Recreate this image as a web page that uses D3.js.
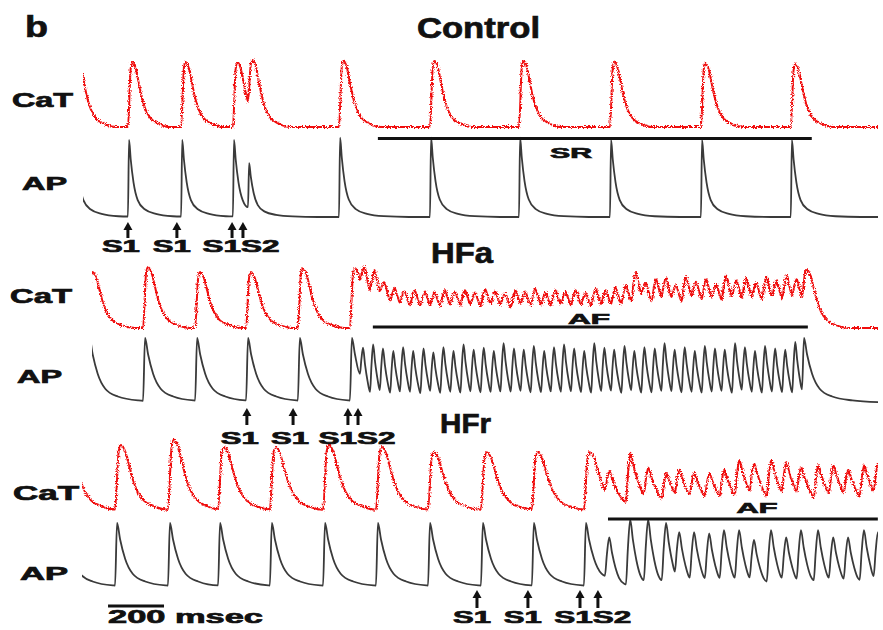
<!DOCTYPE html>
<html>
<head>
<meta charset="utf-8">
<script src="https://cdn.jsdelivr.net/npm/d3@7"></script>
<style>
  body { margin: 0; background: #fff; }
  text { font-family: "Liberation Sans", Arial, sans-serif; font-weight: bold; fill: #111; stroke: #111; stroke-width: 0.7; }
</style>
</head>
<body>
<script>
const WIDTH = 883;
const HEIGHT = 630;

// beat shapes: [ms after onset, fraction of the beat's peak]
const CA_SHAPE = [[0,0],[10,0.9],[16,1],[28,0.9],[40,0.65],[50,0.45],[62,0.28],[80,0.14],[110,0.05],[150,0]];
const AP_SHAPE = [[0,0],[4,1],[10,0.75],[20,0.45],[35,0.22],[60,0.1],[100,0.04],[160,0.01],[250,0]];
const AF_CA_SHAPE = [[0,0],[8,0.6],[16,1],[26,0.8],[40,0.55],[60,0.3],[90,0.12],[130,0]];
const AF_AP_SHAPE = [[0,0],[5,0.55],[11,1],[18,0.7],[27,0.4],[36,0.2],[50,0.08],[80,0]];

// ---- Control (times in msec) ----
const ctrlOnsets  = [-30, 164, 354, 539, 593, 918, 1243, 1561, 1886, 2211, 2532];
const ctrlCaPeaks = [0.95, 1.0, 1.0, 1.0, 1.03, 1.02, 1.02, 1.02, 1.0, 0.98, 0.97];
const ctrlApPeaks = [1.0, 1.0, 1.0, 1.0, 0.7, 1.03, 1.03, 1.03, 1.0, 1.0, 1.0];
const ctrlStim = [164, 339, 536, 575];
const ctrlStimLabels = [["S1", 139], ["S1", 321], ["S1S2", 568]];
const ctrlBar = [1057, 2607];

// ---- HFa ----
const hfaOnsets = [
  20, 218, 404, 586, 771, 957,
  993, 1029, 1064, 1101, 1136, 1172, 1209, 1244, 1280, 1316,
  1352, 1388, 1424, 1460, 1495, 1532, 1567, 1603, 1640, 1675,
  1711, 1747, 1783, 1819, 1855, 1890, 1927, 1962, 1998, 2035,
  2070, 2106, 2142, 2178, 2214, 2250, 2285, 2322, 2357, 2393,
  2429, 2465, 2501, 2537, 2572];
const hfaApPeaks = [
  1.0, 1.0, 1.0, 1.0, 1.0, 1.0,
  0.85, 0.9, 0.84, 0.8, 0.86, 0.8, 0.84, 0.78, 0.86, 0.8,
  0.9, 0.82, 0.85, 0.8, 0.92, 0.84, 0.82, 0.88, 0.8, 0.86,
  0.9, 0.84, 0.8, 0.92, 0.85, 0.82, 0.88, 0.8, 0.86, 0.84,
  0.92, 0.82, 0.86, 0.8, 0.88, 0.84, 0.82, 0.92, 0.86, 0.8,
  0.88, 0.84, 0.82, 0.94, 1.0];
const hfaCaPeaks = [
  0.92, 1.0, 0.92, 0.92, 0.98, 0.98,
  1.0, 0.95, 0.75, 0.65, 0.6, 0.62, 0.6, 0.58, 0.62, 0.6,
  0.62, 0.58, 0.64, 0.6, 0.56, 0.62, 0.6, 0.64, 0.58, 0.62,
  0.6, 0.62, 0.58, 0.64, 0.62, 0.66, 0.7, 0.92, 0.74, 0.8,
  0.82, 0.7, 0.84, 0.76, 0.8, 0.72, 0.86, 0.78, 0.82, 0.74,
  0.84, 0.78, 0.86, 0.8, 0.95];
const hfaStim = [589, 754, 950, 986];
const hfaStimLabels = [["S1", 564], ["S1", 743], ["S1S2", 982]];
const hfaBar = [1039, 2593];
const hfaAf = [975, 2560];

// ---- HFr ----
const hfrOnsets = [
  -70, 118, 307, 486, 671, 861, 1050, 1236, 1425, 1607, 1793,
  1868, 1943, 2007, 2071, 2118, 2171, 2225, 2278, 2332, 2385,
  2446, 2500, 2553, 2614, 2668, 2721, 2778, 2828];
const hfrApPeaks = [
  1.0, 1.0, 1.0, 1.0, 1.0, 1.0, 1.0, 1.0, 1.0, 1.0, 1.0,
  0.78, 1.05, 1.05, 1.0, 0.86, 0.86, 0.84, 0.89, 0.89, 0.74,
  0.89, 0.78, 0.89, 0.89, 0.78, 0.78, 0.89, 0.86];
const hfrCaPeaks = [
  1.0, 1.0, 1.08, 0.97, 0.97, 1.0, 0.97, 0.89, 0.89, 0.89, 0.89,
  0.6, 0.88, 0.65, 0.57, 0.62, 0.57, 0.57, 0.62, 0.77, 0.72,
  0.77, 0.74, 0.66, 0.69, 0.69, 0.62, 0.69, 0.72];
const hfrStim = [1411, 1593, 1779, 1843];
const hfrStimLabels = [["S1", 1393], ["S1", 1575], ["S1S2", 1825]];
const hfrBar = [1879, 2843];
const hfrAf = [1850, 2850];

const scaleBar = [93, 293];

var svg = d3.select("body").append("svg")
    .attr("width", WIDTH)
    .attr("height", HEIGHT);

svg.append("rect").attr("width", WIDTH).attr("height", HEIGHT).attr("fill", "#fff");

// rough look of the optical calcium signal
var filter = svg.append("defs").append("filter")
    .attr("id", "jitter")
    .attr("x", "-2%").attr("y", "-20%").attr("width", "104%").attr("height", "140%");
filter.append("feTurbulence")
    .attr("type", "fractalNoise").attr("baseFrequency", "0.7 0.9")
    .attr("numOctaves", 2).attr("seed", 4).attr("result", "n");
filter.append("feDisplacementMap")
    .attr("in", "SourceGraphic").attr("in2", "n").attr("scale", 4.5)
    .attr("xChannelSelector", "R").attr("yChannelSelector", "G");

var x = d3.scaleLinear().domain([0, 2840]).range([82, 877]);

function shapeAt(shape, dt) {
    if (dt <= 0) return 0;
    for (var j = 1; j < shape.length; j++) {
        if (dt <= shape[j][0]) {
            var a = shape[j - 1], b = shape[j];
            return a[1] + (b[1] - a[1]) * (dt - a[0]) / (b[0] - a[0]);
        }
    }
    return 0;
}

// each beat rises from where the previous one left off, then decays
function tracePoints(onsets, peaks, opt) {
    var pts = [], level = 0;
    onsets.forEach(function(t0, i) {
        var isAf = opt.af && t0 >= opt.af[0] && t0 <= opt.af[1];
        var shape = isAf ? opt.afShape : opt.shape;
        var s = isAf ? opt.afStretch : opt.stretch;
        var next = i < onsets.length - 1 ? onsets[i + 1] : opt.end;
        var tPeak = shape.find(function(d) { return d[1] === 1; })[0];
        var start = level, p = peaks[i];
        function val(dt) {
            var f = shapeAt(shape, dt / s);
            return dt / s < tPeak ? start + (p - start) * f : p * f;
        }
        shape.forEach(function(k) {
            var t = t0 + k[0] * s;
            if (t < next) pts.push([t, val(k[0] * s)]);
        });
        level = val(next - t0);
        if (i === onsets.length - 1) pts.push([next, level]);
    });
    return pts;
}

var clipN = 0;
function drawTrace(pts, yRange, xStart, color, rough) {
    var y = d3.scaleLinear().domain([0, 1]).range(yRange);
    var id = "clip" + (clipN++);
    svg.select("defs").append("clipPath").attr("id", id)
        .append("rect")
            .attr("x", xStart).attr("y", yRange[1] - 30)
            .attr("width", 878 - xStart).attr("height", yRange[0] - yRange[1] + 50);
    var line = d3.line()
        .x(function(d) { return x(d[0]); })
        .y(function(d) { return y(d[1]); })
        .curve(d3.curveMonotoneX);
    var g = svg.append("g").attr("clip-path", "url(#" + id + ")");
    g.append("path")
        .datum(pts)
        .attr("d", line)
        .attr("fill", "none")
        .attr("stroke", color)
        .attr("stroke-width", rough ? 2 : 1.8)
        .attr("stroke-linejoin", "round")
        .attr("filter", rough ? "url(#jitter)" : null);
}

var END = 2850;
var RED = "#f01010";
var GREY = "#3a3a3a";

// Control
drawTrace(tracePoints(ctrlOnsets, ctrlCaPeaks, {shape: CA_SHAPE, stretch: 1.0, end: END}), [127, 62], 83, RED, true);
drawTrace(tracePoints(ctrlOnsets, ctrlApPeaks, {shape: AP_SHAPE, stretch: 1.0, end: END}), [217, 140], 83, GREY, false);

// HFa
drawTrace(tracePoints(hfaOnsets, hfaCaPeaks, {shape: CA_SHAPE, stretch: 1.1, afShape: AF_CA_SHAPE, afStretch: 1.0, af: hfaAf, end: END}), [328, 267], 92, RED, true);
drawTrace(tracePoints(hfaOnsets, hfaApPeaks, {shape: AP_SHAPE, stretch: 1.8, afShape: AF_AP_SHAPE, afStretch: 1.0, af: hfaAf, end: END}), [403, 338], 92, GREY, false);

// HFr
drawTrace(tracePoints(hfrOnsets, hfrCaPeaks, {shape: CA_SHAPE, stretch: 1.3, afShape: AF_CA_SHAPE, afStretch: 1.0, af: hfrAf, end: END}), [510, 445], 82, RED, true);
drawTrace(tracePoints(hfrOnsets, hfrApPeaks, {shape: AP_SHAPE, stretch: 1.8, afShape: AF_AP_SHAPE, afStretch: 1.4, af: hfrAf, end: END}), [588, 523], 82, GREY, false);

// horizontal bars (SR / AF / scale)
function bar(range, yPos) {
    svg.append("line")
        .attr("x1", x(range[0])).attr("x2", x(range[1]))
        .attr("y1", yPos).attr("y2", yPos)
        .attr("stroke", "#111").attr("stroke-width", 2.8);
}
bar(ctrlBar, 138.5);
bar(hfaBar, 327);
bar(hfrBar, 519);
bar(scaleBar, 606);

// stimulus arrows
function arrows(times, yTip, yEnd) {
    times.forEach(function(t) {
        var cx = x(t);
        svg.append("line")
            .attr("x1", cx).attr("x2", cx).attr("y1", yTip + 6).attr("y2", yEnd)
            .attr("stroke", "#111").attr("stroke-width", 3);
        svg.append("path")
            .attr("d", "M" + (cx - 4.5) + "," + (yTip + 8) + "L" + cx + "," + yTip + "L" + (cx + 4.5) + "," + (yTip + 8) + "Z")
            .attr("fill", "#111");
    });
}
arrows(ctrlStim, 222, 238);
arrows(hfaStim, 408, 425);
arrows(hfrStim, 590, 608);

function stimLabels(list, yBase) {
    list.forEach(function(d) {
        svg.append("text")
            .attr("x", x(d[1])).attr("y", yBase)
            .attr("text-anchor", "middle")
            .attr("font-size", 17)
            .attr("textLength", d[0].length === 2 ? 38 : 77)
            .attr("lengthAdjust", "spacingAndGlyphs")
            .text(d[0]);
    });
}
stimLabels(ctrlStimLabels, 252);
stimLabels(hfaStimLabels, 444);
stimLabels(hfrStimLabels, 623);

function label(txt, xPos, yBase, size, len, anchor) {
    svg.append("text")
        .attr("x", xPos).attr("y", yBase)
        .attr("font-size", size)
        .attr("text-anchor", anchor || "start")
        .attr("textLength", len)
        .attr("lengthAdjust", "spacingAndGlyphs")
        .text(txt);
}
label("b", 25, 37, 30, 23);
label("Control", 417, 38, 29, 123);
label("HFa", 431, 263, 30, 62);
label("HFr", 440, 433, 28, 51);

label("CaT", 12, 107, 19.5, 61);
label("AP", 22, 190, 18, 45);
label("CaT", 10, 303, 19.5, 62);
label("AP", 17, 383, 18, 45);
label("CaT", 13, 500, 19.5, 66);
label("AP", 20, 580, 18, 48);

label("SR", 571, 158, 15, 42, "middle");
label("AF", 589, 324, 15, 42, "middle");
label("AF", 757, 513, 15, 41, "middle");
label("200 msec", 108, 623, 19, 155);
</script>
</body>
</html>
